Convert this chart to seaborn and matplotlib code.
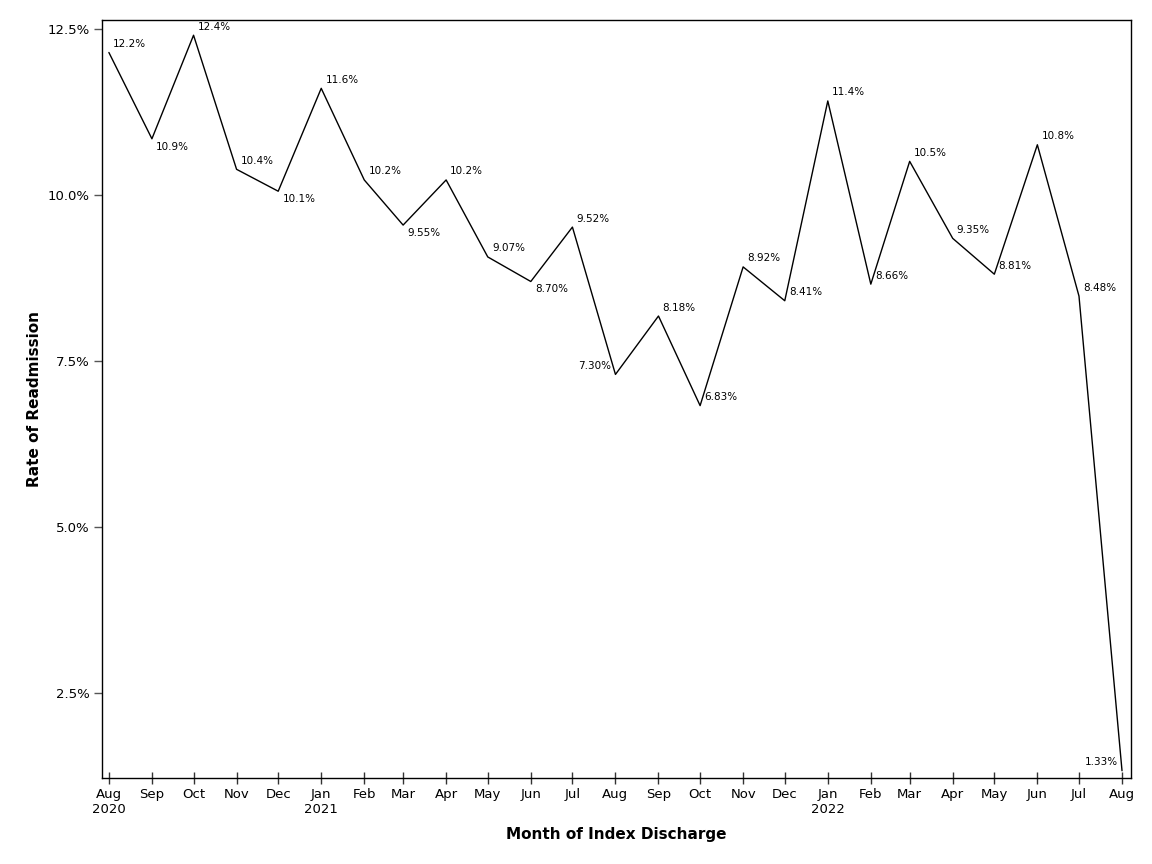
import matplotlib
matplotlib.use("Agg")
import matplotlib.pyplot as plt
import matplotlib.dates as mdates
from matplotlib.ticker import FuncFormatter, FixedLocator
import seaborn as sns
import pandas as pd
import numpy as np

months = pd.date_range("2020-08-01", "2022-08-01", freq="MS")
rates = [12.15, 10.85, 12.41, 10.39, 10.06, 11.61, 10.23, 9.55, 10.23, 9.07,
         8.70, 9.52, 7.30, 8.18, 6.83, 8.92, 8.41, 11.42, 8.66, 10.51,
         9.35, 8.81, 10.76, 8.48, 1.33]
labels = ["12.2%", "10.9%", "12.4%", "10.4%", "10.1%", "11.6%", "10.2%", "9.55%",
          "10.2%", "9.07%", "8.70%", "9.52%", "7.30%", "8.18%", "6.83%", "8.92%",
          "8.41%", "11.4%", "8.66%", "10.5%", "9.35%", "8.81%", "10.8%", "8.48%",
          "1.33%"]
# label placement: ne = above right, se = below right, nw = above left
placement = ["ne", "se", "ne", "ne", "se", "ne", "ne", "se", "ne", "ne",
             "se", "ne", "nw", "ne", "ne", "ne", "ne", "ne", "ne", "ne",
             "ne", "ne", "ne", "ne", "nw"]
yticks = [2.5, 5.0, 7.5, 10.0, 12.5]

df = pd.DataFrame({"month": months, "rate": rates})

sns.set_style("white")
plt.rcParams["font.family"] = ["DejaVu Sans"]
plt.rcParams["text.color"] = "black"
plt.rcParams["axes.labelcolor"] = "black"
plt.rcParams["xtick.color"] = "black"
plt.rcParams["ytick.color"] = "black"

fig = plt.figure(figsize=(11.52, 8.64), dpi=100)
ax = fig.add_axes([0.0885, 0.0995, 0.8933, 0.8774])
sns.lineplot(data=df, x="month", y="rate", ax=ax, color="black", linewidth=1.0)

for d, v, lab, p in zip(months, rates, labels, placement):
    if p == "ne":
        ax.annotate(lab, (d, v), xytext=(3, 2.5), textcoords="offset points",
                    ha="left", va="bottom", fontsize=7.5, color="black")
    elif p == "se":
        ax.annotate(lab, (d, v), xytext=(3, -2), textcoords="offset points",
                    ha="left", va="top", fontsize=7.5, color="black")
    else:
        ax.annotate(lab, (d, v), xytext=(-3, 2.5), textcoords="offset points",
                    ha="right", va="bottom", fontsize=7.5, color="black")

ax.set_xlim(months[0] - pd.Timedelta(days=5), months[-1] + pd.Timedelta(days=6.5))
ax.set_ylim(1.22, 12.64)
ax.yaxis.set_major_locator(FixedLocator(yticks))
ax.yaxis.set_major_formatter(FuncFormatter(lambda v, _: f"{v:.1f}%"))

ax.xaxis.set_major_locator(FixedLocator(mdates.date2num(months)))
xt = [m.strftime("%b") + ("\n" + m.strftime("%Y") if (m.month == 1 or i == 0) else "")
      for i, m in enumerate(months)]
ax.set_xticklabels(xt)

ax.tick_params(axis="x", direction="inout", length=8, width=1, color="#333333",
               labelsize=9.5, pad=3, labelcolor="black")
ax.tick_params(axis="y", direction="out", length=6, width=1, color="#555555",
               labelsize=9.5, pad=3, labelcolor="black")
ax.tick_params(bottom=True, left=True)

for s in ax.spines.values():
    s.set_color("black")
    s.set_linewidth(1.0)

ax.set_xlabel("Month of Index Discharge", fontsize=11, fontweight="bold",
              labelpad=8, color="black")
ax.set_ylabel("Rate of Readmission", fontsize=11, fontweight="bold",
              labelpad=4, color="black")

fig.savefig("out.png", dpi=100)
